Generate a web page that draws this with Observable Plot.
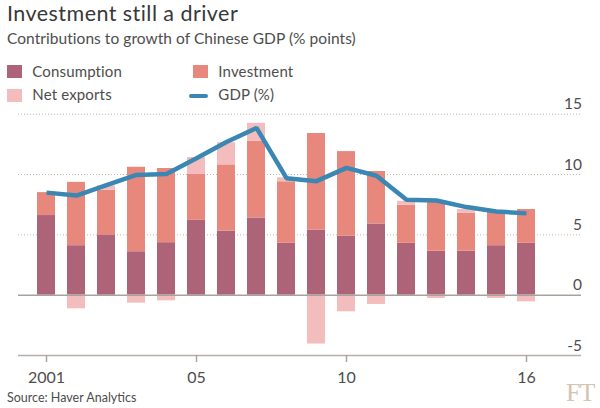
<!DOCTYPE html>
<html>
<head>
<meta charset="utf-8">
<script src="https://cdn.jsdelivr.net/npm/d3@7"></script>
<script src="https://cdn.jsdelivr.net/npm/@observablehq/plot@0.6"></script>
<style>
  html, body { margin: 0; padding: 0; background: #ffffff; }
  body { width: 600px; height: 408px; position: relative; overflow: hidden; font-family: Lato, "Open Sans", sans-serif; }
  .abs { position: absolute; white-space: nowrap; }
  #title { left: 7px; top: 3.4px; font-size: 21.5px; line-height: 21.5px; color: #383838; letter-spacing: 0.45px; }
  #subtitle { left: 7px; top: 31.3px; font-size: 15.5px; line-height: 15.5px; color: #4d4d4d; letter-spacing: 0.05px; }
  .leg { font-size: 15px; line-height: 15px; color: #4d4d4d; letter-spacing: 0.15px; }
  .sw { position: absolute; width: 15px; height: 13px; }
  .ln { position: absolute; width: 19px; height: 4px; border-radius: 2px; }
  #chart { position: absolute; left: 0; top: 100px; }
  #source { left: 7px; top: 391.9px; font-size: 12.5px; line-height: 12.5px; color: #4d4d4d; }
  #ft { left: 566px; top: 380px; font-family: "Liberation Serif", "DejaVu Serif", serif; font-size: 26px; line-height: 26px; color: #d6c3b0; letter-spacing: -1px; }
</style>
</head>
<body>
<div id="title" class="abs">Investment still a driver</div>
<div id="subtitle" class="abs">Contributions to growth of Chinese GDP (% points)</div>
<div id="legend"></div>
<div id="chart"></div>
<div id="source" class="abs">Source: Haver Analytics</div>
<div id="ft" class="abs">FT</div>
<script>
// ---- data ----
const years = [2000, 2001, 2002, 2003, 2004, 2005, 2006, 2007, 2008, 2009, 2010, 2011, 2012, 2013, 2014, 2015, 2016];
const consumption = [6.6, 4.1, 5.0, 3.6, 4.35, 6.2, 5.3, 6.4, 4.3, 5.4, 4.9, 5.9, 4.3, 3.65, 3.65, 4.1, 4.3];
const investment  = [1.9, 5.25, 3.7, 7.0, 6.15, 3.8, 5.5, 6.35, 5.1, 8.0, 7.0, 4.35, 3.15, 4.15, 3.15, 2.8, 2.8];
const netExports  = [0, -1.13, 0.36, -0.66, -0.47, 1.41, 1.84, 1.49, 0.33, -4.05, -1.38, -0.77, 0.33, -0.28, 0.3, -0.28, -0.55];
const gdp         = [8.5, 8.26, 9.12, 9.97, 10.05, 11.35, 12.7, 13.86, 9.7, 9.45, 10.55, 9.9, 7.9, 7.85, 7.3, 6.94, 6.78];

const seriesNames  = ["Consumption", "Investment", "Net exports"];
const seriesColors = ["#ad6479", "#e8877c", "#f4bdbd"];
const lineName = "GDP (%)";
const lineColor = "#3a87b3";

const xTickYears  = [2000, 2005, 2010, 2016];
const xTickLabels = ["2001", "05", "10", "16"];
const yTicks = [-5, 0, 5, 10, 15];
const gridValues = [5, 10, 15];

// ---- legend ----
const legend = document.getElementById("legend");
const legendItems = [
  {label: seriesNames[0], color: seriesColors[0], kind: "sw", x: 7, y: 65},
  {label: seriesNames[1], color: seriesColors[1], kind: "sw", x: 193, y: 65},
  {label: seriesNames[2], color: seriesColors[2], kind: "sw", x: 7, y: 88.5},
  {label: lineName, color: lineColor, kind: "ln", x: 188.5, y: 94.3}
];
legendItems.forEach((it, i) => {
  const s = document.createElement("div");
  s.className = it.kind;
  s.style.left = it.x + "px";
  s.style.top = it.y + "px";
  s.style.background = it.color;
  legend.appendChild(s);
  const t = document.createElement("div");
  t.className = "abs leg";
  t.textContent = it.label;
  t.style.left = (i % 2 === 0 ? 32.3 : 218.3) + "px";
  t.style.top = (i < 2 ? 64 : 87.4) + "px";
  legend.appendChild(t);
});

// ---- chart ----
const stacked = [];
years.forEach((yr, i) => {
  stacked.push({year: yr, series: seriesNames[0], value: consumption[i]});
  stacked.push({year: yr, series: seriesNames[1], value: investment[i]});
  stacked.push({year: yr, series: seriesNames[2], value: netExports[i]});
});
const gdpData = years.map((yr, i) => ({year: yr, value: gdp[i]}));
const tickLabelOf = new Map(xTickYears.map((y, i) => [y, xTickLabels[i]]));

const chart = Plot.plot({
  width: 600,
  height: 290,
  marginTop: 13.7,
  marginBottom: 35,
  marginLeft: 21.7,
  marginRight: 49.3,
  x: {type: "band", domain: years, padding: 0.4, axis: null, label: null},
  y: {domain: [-5, 15], axis: null, label: null},
  color: {domain: seriesNames, range: seriesColors},
  style: {background: "transparent", fontFamily: "Lato, 'Open Sans', sans-serif", overflow: "visible"},
  marks: [
    Plot.ruleY(gridValues, {y: d => d, stroke: "#c5b3a2", strokeDasharray: "1,2", strokeWidth: 1, insetLeft: -3.7, insetRight: -30.3}),
    Plot.barY(stacked, {x: "year", y: "value", fill: "series", order: null}),
    Plot.ruleY([0], {y: d => d, stroke: "#a8a29c", strokeWidth: 1.5, insetLeft: -3.7, insetRight: -30.3}),
    Plot.ruleY([-5], {y: d => d, stroke: "#b3aea8", strokeWidth: 1.5, insetLeft: -3.7, insetRight: -30.3}),
    Plot.lineY(gdpData, {x: "year", y: "value", stroke: lineColor, strokeWidth: 4.5, strokeLinejoin: "miter", strokeLinecap: "butt"}),
    Plot.axisX(xTickYears, {label: null, tickSize: 7, tickPadding: 9.6, tickFormat: d => tickLabelOf.get(d), fontSize: 16, stroke: "#aaa49e", strokeWidth: 1.5, fill: "#4d4d4d"}),
    Plot.text(yTicks, {y: d => d, text: d => String(d), frameAnchor: "right", textAnchor: "end", lineAnchor: "bottom", dx: 30.8, dy: -5, fontSize: 15.5, fill: "#4d4d4d"})
  ]
});
document.getElementById("chart").appendChild(chart);
</script>
</body>
</html>
